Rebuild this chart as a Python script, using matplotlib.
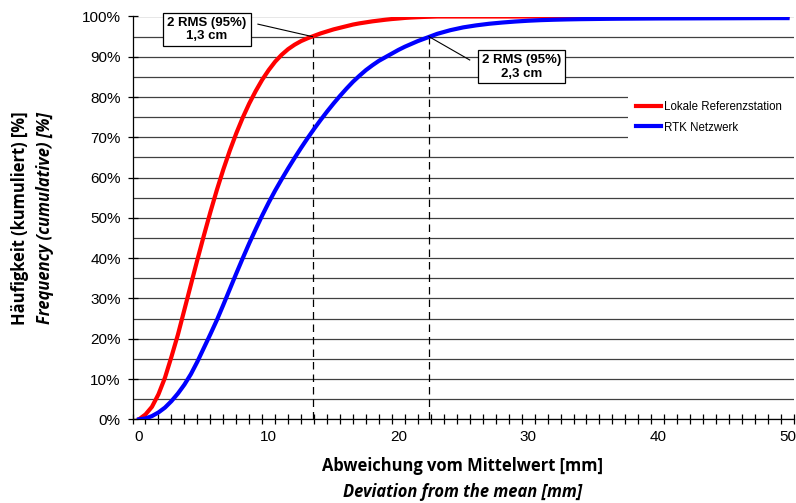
import matplotlib
matplotlib.use('Agg')
import matplotlib.pyplot as plt
from matplotlib.ticker import MultipleLocator, FixedLocator, FuncFormatter
from matplotlib.patches import Rectangle

# deviation from the mean [mm]: half-mm steps up to 23 mm, then whole mm
dev_mm = [i / 2 for i in range(47)] + list(range(24, 51))

# cumulative frequency [%]
lokal = [0, 1.2, 3.1, 6.2, 10.3, 15.5, 21.0, 27.2, 33.4, 39.6, 45.6, 51.4, 56.9,
         62.0, 66.7, 71.0, 74.9, 78.4, 81.5, 84.3, 86.7, 88.8, 90.5, 91.9, 93.0,
         93.9, 94.6, 95.2, 95.8, 96.3, 96.8, 97.2, 97.6, 98.0, 98.3, 98.55, 98.8,
         99.0, 99.2, 99.37, 99.5, 99.65, 99.75, 99.83, 99.9, 99.95, 100] + [100] * 27
rtk = [0, 0.2, 0.8, 1.7, 2.9, 4.5, 6.4, 8.6, 11.2, 14.3, 17.7, 21.1, 24.6, 28.4,
       32.3, 36.2, 40.0, 43.7, 47.2, 50.6, 53.8, 56.8, 59.6, 62.3, 64.9, 67.4,
       69.8, 72.1, 74.3, 76.4, 78.4, 80.3, 82.1, 83.8, 85.3, 86.7, 87.9, 89.0,
       89.9, 90.8, 91.7, 92.5, 93.2, 93.9, 94.5, 95.1, 95.7,
       96.6, 97.3, 97.8, 98.2, 98.5, 98.75, 98.95, 99.1, 99.2, 99.28, 99.34,
       99.38, 99.42, 99.45, 99.47, 99.49, 99.51, 99.52, 99.53, 99.54, 99.55,
       99.56, 99.57, 99.58, 99.59, 99.6, 99.6]

rms2_lokal = 13.38   # x where red reaches 95 %
rms2_rtk = 22.36     # x where blue reaches 95 %

tick_font = 'Liberation Sans'
label_font = 'Open Sans'

fig = plt.figure(figsize=(7.96, 5.03), dpi=100)
ax = fig.add_axes([132.5 / 796, 1 - 419.3 / 503, 661.5 / 796, 402.8 / 503])

# category-style x axis: axis edge half a step before 0
ax.set_xlim(-0.5, 50.5)
ax.set_ylim(0, 100)

# horizontal grid every 5 %
ax.yaxis.set_minor_locator(MultipleLocator(5))
ax.yaxis.set_major_locator(MultipleLocator(10))
ax.grid(True, axis='y', which='both', color='#404040', lw=0.9)
ax.set_axisbelow(True)

# white patch behind the legend hides the grid there
ax.add_patch(Rectangle((0.749, 0.675), 0.26, 0.17, transform=ax.transAxes,
                       facecolor='white', edgecolor='none', zorder=1, clip_on=False))

ax.plot(dev_mm, lokal, color='#FF0000', lw=3, label='Lokale Referenzstation', zorder=3,
        solid_joinstyle='round')
ax.plot(dev_mm, rtk, color='#0000FF', lw=3, label='RTK Netzwerk', zorder=3,
        solid_joinstyle='round')

# 95 % markers
for xv in (rms2_lokal, rms2_rtk):
    ax.plot([xv, xv], [0, 95], color='black', lw=0.9, ls=(0, (6, 4)), zorder=2)

# annotation boxes with leader lines
ax.plot([9.17, rms2_lokal], [98.1, 95], color='black', lw=0.8, zorder=4)
ax.text(5.24, 96.7, '2 RMS (95%)\n1,3 cm', ha='center', va='center', fontsize=9.5,
        fontweight='bold', family=tick_font, zorder=5, linespacing=1.15,
        bbox=dict(boxstyle='square,pad=0.3', facecolor='white', edgecolor='black', lw=0.9))
ax.plot([25.5, rms2_rtk], [89.2, 95], color='black', lw=0.8, zorder=4)
ax.text(29.5, 87.5, '2 RMS (95%)\n2,3 cm', ha='center', va='center', fontsize=9.5,
        fontweight='bold', family=tick_font, zorder=5, linespacing=1.15,
        bbox=dict(boxstyle='square,pad=0.3', facecolor='white', edgecolor='black', lw=0.9))

leg = ax.legend(loc='center left', bbox_to_anchor=(0.761, 0.75), frameon=False,
                prop={'family': tick_font, 'size': 8.3}, handlelength=2.2,
                handletextpad=0.2, labelspacing=0.75, borderaxespad=0, borderpad=0)

ax.xaxis.set_major_locator(MultipleLocator(10))
ax.xaxis.set_minor_locator(FixedLocator([k + 0.5 for k in range(-1, 51)]))
ax.yaxis.set_major_formatter(FuncFormatter(lambda v, p: f'{v:.0f}%'))
ax.tick_params(axis='both', which='both', direction='inout', width=0.9, color='black')
ax.tick_params(axis='x', which='major', length=0, pad=8)
ax.tick_params(axis='x', which='minor', length=7)
ax.tick_params(axis='y', which='major', length=7, pad=5)
ax.tick_params(axis='y', which='minor', length=0)
for lab in ax.get_xticklabels() + ax.get_yticklabels():
    lab.set_fontfamily(tick_font)
    lab.set_fontsize(11)

for side in ('top', 'right'):
    ax.spines[side].set_visible(False)
for side in ('left', 'bottom'):
    ax.spines[side].set_linewidth(0.9)
    ax.spines[side].set_color('black')

fig.text(463 / 796, 1 - 466 / 503, 'Abweichung vom Mittelwert [mm]', ha='center', va='center',
         fontsize=11.9, fontweight='bold', family=label_font)
fig.text(463 / 796, 1 - 492 / 503, 'Deviation from the mean [mm]', ha='center', va='center',
         fontsize=11.9, fontweight='bold', style='italic', family=label_font)
fig.text(20 / 796, 1 - 218 / 503, 'Häufigkeit (kumuliert) [%]', ha='center', va='center',
         rotation=90, fontsize=11.9, fontweight='bold', family=label_font)
fig.text(45 / 796, 1 - 218 / 503, 'Frequency (cumulative) [%]', ha='center', va='center',
         rotation=90, fontsize=11.9, fontweight='bold', style='italic', family=label_font)

fig.savefig('out.png', dpi=100)
